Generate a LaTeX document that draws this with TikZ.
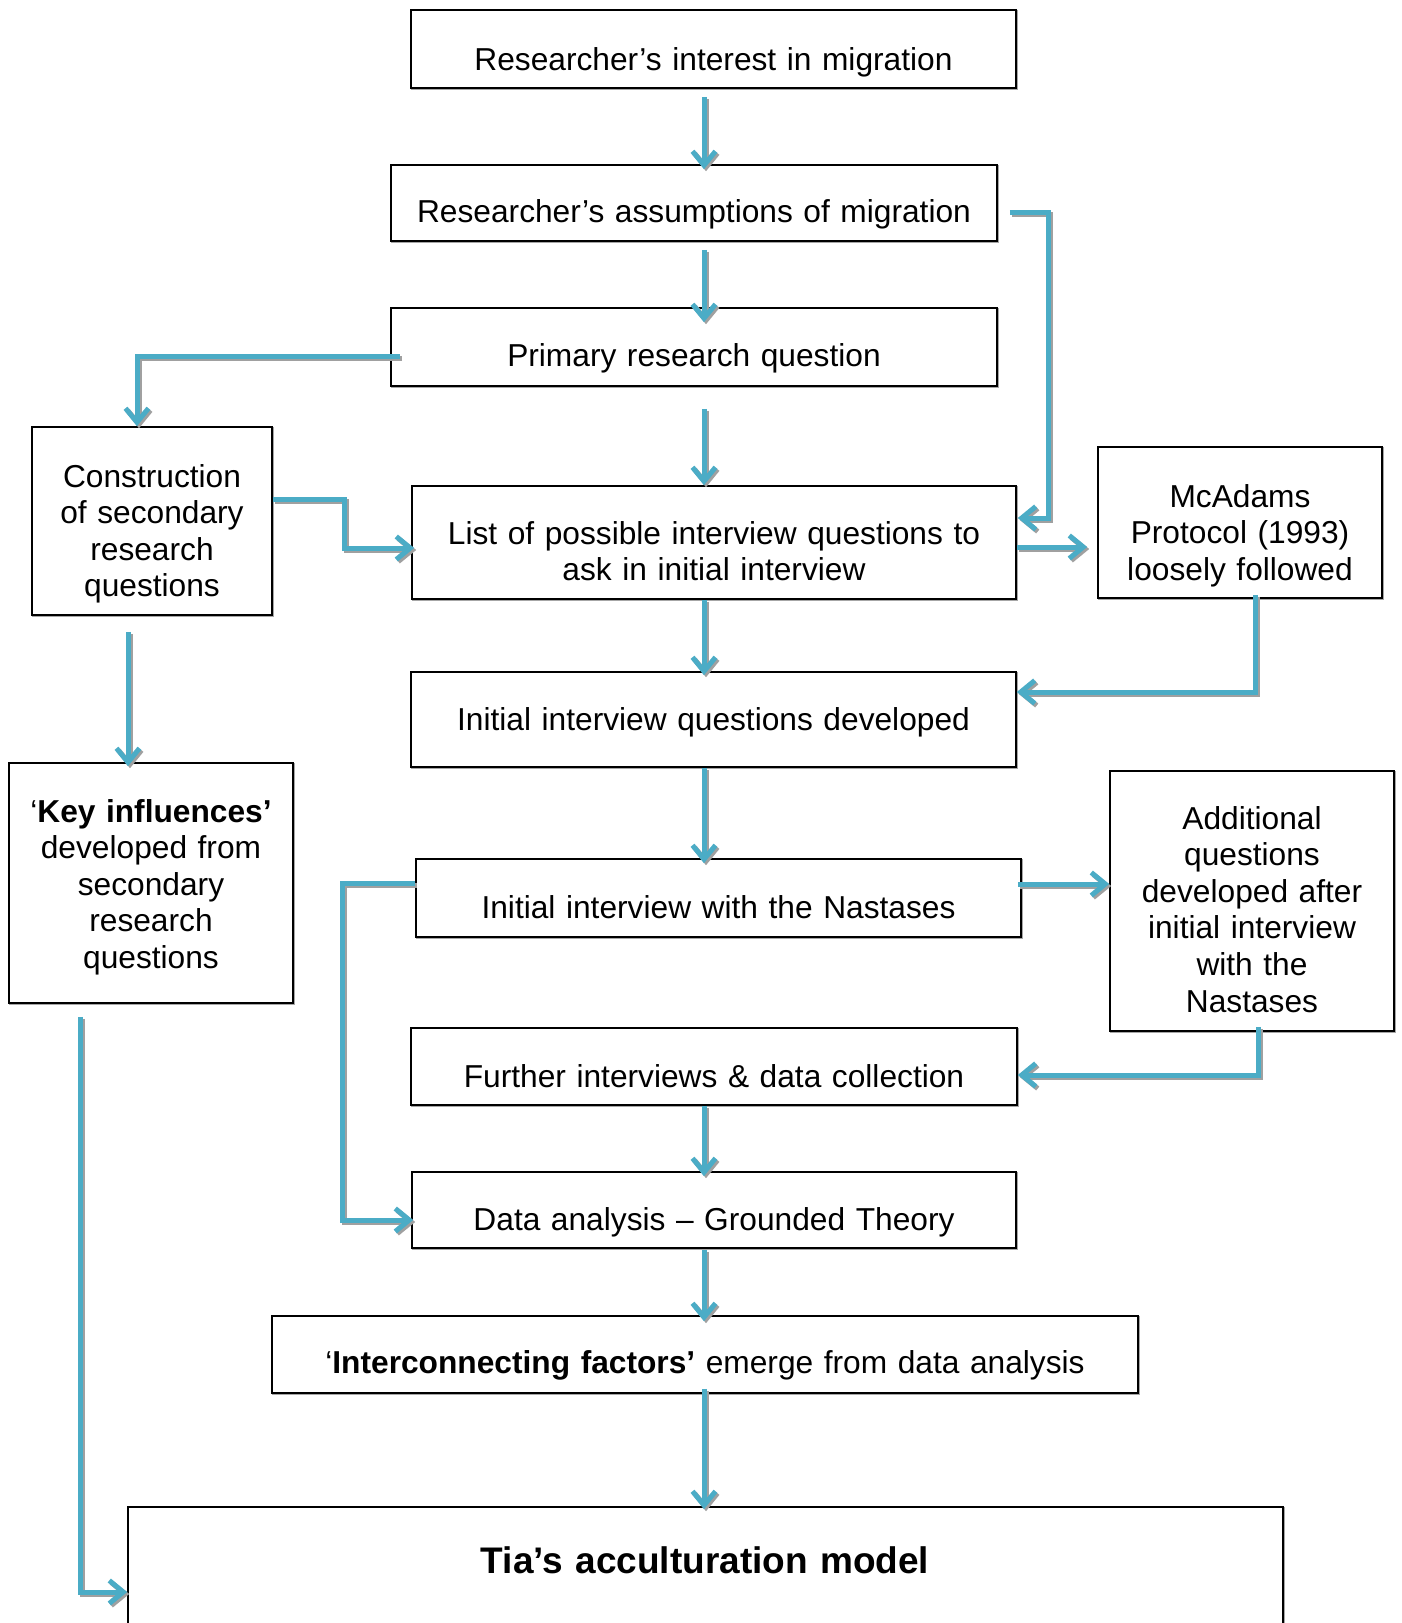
\documentclass[tikz,border=0pt]{standalone}
\usepackage{fontspec}
\setmainfont{Liberation Sans}
\usetikzlibrary{arrows.meta,calc}
\definecolor{arrblue}{HTML}{4BACC6}
\definecolor{shgray}{HTML}{A0A0A0}
\newcommand\fsz{\fontsize{31.7}{36.6}\selectfont}
\newcommand\conn[1]{\draw[arr,shadowc] #1; \draw[arr] #1;}
\newcommand\bx[5]{\node[box, minimum width={#4-#2}, minimum height={#5-#3}] (#1) at ({(#2+#4)/2},{(#3+#5)/2}) {};}
\begin{document}
\begin{tikzpicture}[x=1pt,y=-1pt,
 box/.style={draw=black, line width=1.6pt, fill=white, inner sep=0pt,
   preaction={draw=black!35, line width=1.6pt, transform canvas={shift={(1.2pt,-1.2pt)}}}},
 txt/.style={font=\fsz, align=center, inner sep=0pt, anchor=base},
 arr/.style={draw=arrblue, line width=5pt, -{Straight Barb[length=14pt,width=23pt]}},
 shadowc/.style={draw=shgray, transform canvas={shift={(2pt,-2pt)}}}
]
\useasboundingbox (0,0) rectangle (1402,1623);
% boxes
\bx{b1}{411}{10}{1016}{88}
\bx{b2}{391}{165}{997}{241}
\bx{b3}{391}{308}{997}{386}
\bx{cons}{32}{427}{272}{615}
\bx{list}{412}{486}{1016}{599}
\bx{mca}{1098}{447}{1382}{598}
\bx{dev}{411}{672}{1016}{767}
\bx{key}{9}{763}{293}{1003}
\bx{nast}{416}{859}{1021}{937}
\bx{add}{1110}{771}{1394}{1031}
\bx{fur}{411}{1028}{1017}{1105}
\bx{data}{412}{1172}{1016}{1248}
\bx{inter}{272}{1316}{1138}{1393}
\bx{tia}{128}{1507}{1283}{1660}
% texts
\node[txt, text width=600pt] (t1) at (713.5,70) {Researcher’s interest in migration};
\node[txt, text width=600pt] (t2) at (694,222) {Researcher’s assumptions of migration};
\node[txt, text width=600pt] (t3) at (694,366) {Primary research question};
\node[txt, text width=236pt] (tcons) at (152,487) {Construction\\of secondary\\research\\questions};
\node[txt, text width=600pt] (tlist) at (714,544) {List of possible interview questions to\\ask in initial interview};
\node[txt, text width=280pt] (tmca) at (1240,507) {McAdams\\Protocol (1993)\\loosely followed};
\node[txt, text width=600pt] (tdev) at (713.5,730) {Initial interview questions developed};
\node[txt, text width=280pt] (tkey) at (151,822) {‘\textbf{Key influences’}\\developed from\\secondary\\research\\questions};
\node[txt, text width=600pt] (tnast) at (718.5,918) {Initial interview with the Nastases};
\node[txt, text width=280pt] (tadd) at (1252,829) {Additional\\questions\\developed after\\initial interview\\with the\\Nastases};
\node[txt, text width=600pt] (tfur) at (714,1087) {Further interviews \& data collection};
\node[txt, text width=600pt] (tdata) at (714,1230) {Data analysis – Grounded Theory};
\node[txt, text width=860pt] (tinter) at (705,1373) {‘\textbf{Interconnecting factors’} emerge from data analysis};
\node[txt, text width=1100pt, font=\fontsize{37}{42}\selectfont\bfseries] (ttia) at (705,1573) {Tia’s acculturation model};
% connectors
\conn{($(b1.south)+(-9.5,8)$) -- ($(b2.north)+(10,5)$)}
\conn{($(b2.south)+(10,8)$) -- ($(b3.north)+(10,15)$)}
\conn{($(b3.south)+(10,22)$) -- ($(list.north)+(-10,0)$)}
\conn{(list.south -| 704,0) -- ($(dev.north)+(-9.5,4)$)}
\conn{($(dev.south)+(-9.5,0)$) -- ($(nast.north)+(-14.5,5)$)}
\conn{($(fur.south)+(-10,0)$) -- ($(data.north)+(-10,5)$)}
\conn{($(data.south)+(-10,1)$) -- ($(inter.north)+(-1,6)$)}
\conn{($(inter.south)+(-1,-5)$) -- ($(tia.north)+(-1.5,3)$)}
\conn{($(b2.east)+(12,9)$) -- ++(39,0) |- ($(list.east)+(1,-24.5)$)}
\conn{($(b3.west)+(10,9)$) -| ($(cons.north)+(-15,0)$)}
\conn{($(cons.east)+(0,-22)$) -- ++(72,0) |- ($(list.west)+(3,5.5)$)}
\conn{($(list.east)+(0,4.5)$) -- ($(mca.west)+(-10,24.5)$)}
\conn{($(mca.south)+(15,-4)$) |- ($(dev.east)+(0,-27.5)$)}
\conn{($(cons.south)+(-24,16)$) -- ($(key.north)+(-23,4)$)}
\conn{($(nast.east)+(-4,-14)$) -- ($(add.west)+(0,-17)$)}
\conn{($(add.south)+(6,-5)$) |- ($(fur.east)+(0,8.5)$)}
\conn{($(nast.west)+(0,-15)$) -- ++(-73,0) |- ($(data.west)+(2,10)$)}
\conn{($(key.south)+(-71,13)$) |- ($(tia.west)+(0,8.5)$)}
\end{tikzpicture}
\end{document}
